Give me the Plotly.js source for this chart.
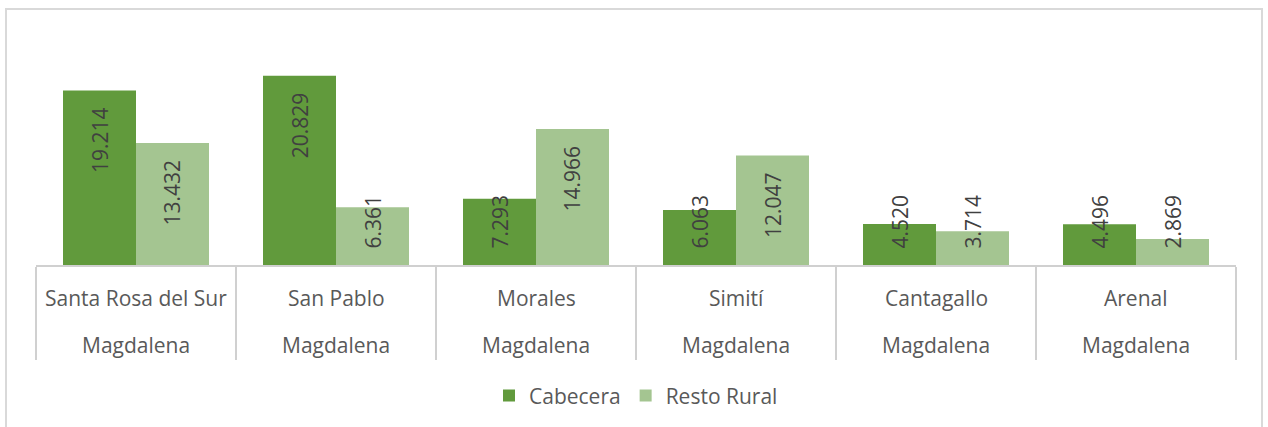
<!DOCTYPE html>
<html>
<head>
<meta charset="utf-8">
<script src="https://cdn.plot.ly/plotly-3.0.1.min.js"></script>
<style>
  body { margin: 0; background: #fff; }
  #plot { position: absolute; left: 0; top: 0; width: 1268px; height: 427px; }
  #frame { position: absolute; left: 5px; top: 8px; width: 1258px; height: 440px;
           box-sizing: border-box; border: 2px solid #d9d9d9; pointer-events: none; }
</style>
</head>
<body>
<div id="plot"></div>
<div id="frame"></div>
<script>
// municipios y departamento
var municipios = ["Santa Rosa del Sur", "San Pablo", "Morales", "Simití", "Cantagallo", "Arenal"];
var departamentos = ["Magdalena", "Magdalena", "Magdalena", "Magdalena", "Magdalena", "Magdalena"];

var cabecera = [19214, 20829, 7293, 6063, 4520, 4496];
var restoRural = [13432, 6361, 14966, 12047, 3714, 2869];

var colorCab = "#619a3c";
var colorResto = "#a4c591";
var yMax = 25000;
var plotH = 228;

function fmt(v) {
  var miles = Math.floor(v / 1000);
  var resto = String(v % 1000);
  while (resto.length < 3) resto = "0" + resto;
  return miles + "." + resto;
}

var traces = [
  {
    type: "bar", name: "Cabecera", x: municipios, y: cabecera,
    marker: { color: colorCab }, hoverinfo: "none"
  },
  {
    type: "bar", name: "Resto Rural", x: municipios, y: restoRural,
    marker: { color: colorResto }, hoverinfo: "none"
  }
];

var annotations = [];

// etiquetas de valor giradas dentro de las barras
function addValueLabels(vals, shift) {
  for (var i = 0; i < vals.length; i++) {
    var txt = fmt(vals[i]);
    var barPx = vals[i] * plotH / yMax;
    var textLen = txt.length * 11 - 3;
    var a = {
      x: municipios[i], xref: "x", yref: "y", text: txt, showarrow: false,
      textangle: -90, xshift: shift,
      font: { family: "Open Sans", size: 21, color: "#404040" }
    };
    if (barPx < 17 + textLen + 16) {
      a.y = 0; a.yanchor = "bottom"; a.yshift = 14;
    } else {
      a.y = vals[i]; a.yanchor = "top"; a.yshift = -15;
    }
    annotations.push(a);
  }
}
addValueLabels(cabecera, -36.5);
addValueLabels(restoRural, 36.5);

// etiquetas de categoria en dos filas
for (var i = 0; i < municipios.length; i++) {
  annotations.push({
    x: municipios[i], xref: "x", y: 0, yref: "paper", yanchor: "middle", yshift: -33,
    text: municipios[i], showarrow: false,
    font: { family: "Open Sans", size: 21, color: "#595959" }
  });
  annotations.push({
    x: municipios[i], xref: "x", y: 0, yref: "paper", yanchor: "middle", yshift: -80,
    text: departamentos[i], showarrow: false,
    font: { family: "Open Sans", size: 21, color: "#595959" }
  });
}

var layout = {
  width: 1268, height: 427,
  margin: { l: 36, r: 32, t: 38, b: 161 },
  paper_bgcolor: "#fff", plot_bgcolor: "#fff",
  barmode: "group", bargap: 0.27, bargroupgap: 0,
  showlegend: true,
  legend: {
    orientation: "h", x: 0.5, xanchor: "center", y: -0.57, yanchor: "middle",
    font: { family: "Open Sans", size: 21, color: "#595959" }
  },
  xaxis: {
    type: "category", showticklabels: false, showgrid: false, zeroline: false,
    ticks: "outside", tickson: "boundaries", ticklen: 93,
    tickcolor: "#d0d0d0", tickwidth: 1.5,
    showline: true, linecolor: "#d0d0d0", linewidth: 1.5
  },
  yaxis: { range: [0, yMax], visible: false },
  annotations: annotations
};

Plotly.newPlot("plot", traces, layout, { displayModeBar: false, staticPlot: true });
</script>
</body>
</html>
